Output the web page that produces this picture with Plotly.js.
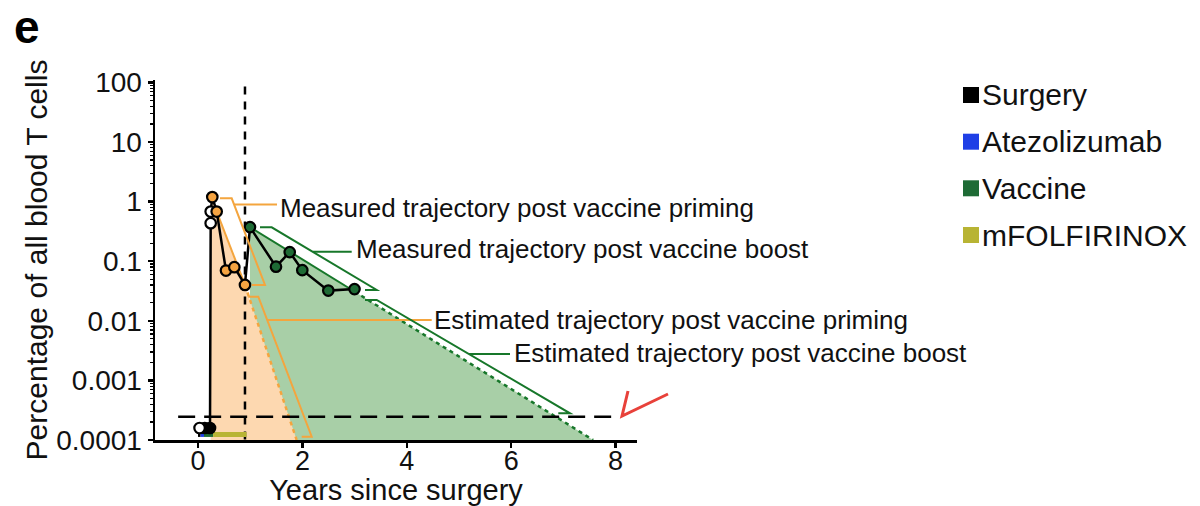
<!DOCTYPE html>
<html>
<head>
<meta charset="utf-8">
<script src="https://cdn.plot.ly/plotly-3.0.1.min.js"></script>
<style>html,body{margin:0;padding:0;background:#fff;}#chart{width:1200px;height:506px;}</style>
</head>
<body>
<div id="chart"></div>
<script>
// ---------- data ----------
// pre-vaccine measurements (below detection)
var preOpenX = [0.03];
var preOpenY = [0.000159];
var preFilledX = [0.13, 0.23];
var preFilledY = [0.000159, 0.000159];
// open-circle measurements at vaccine onset
var onsetX = [0.243, 0.243];
var onsetY = [0.435, 0.68];
// measured post priming (orange)
var primeX = [0.274, 0.358, 0.536, 0.696, 0.90];
var primeY = [1.19, 0.68, 0.0697, 0.0794, 0.040];
// measured post boost (green)
var boostX = [0.996, 1.494, 1.757, 1.998, 2.496, 2.998];
var boostY = [0.373, 0.081, 0.142, 0.0708, 0.0321, 0.034];
// fitted / estimated trajectories
var primeFitX = [0.358, 0.90];
var primeFitY = [0.68, 0.040];
var primeEstX = [0.90, 1.89];
var primeEstY = [0.040, 0.0001];
var boostFitX = [0.996, 2.998];
var boostFitY = [0.373, 0.031];
var boostEstX = [2.998, 7.57];
var boostEstY = [0.031, 0.0001];
var floorY = 0.0001;
// reference lines
var boostTimeX = [0.9, 0.9];
var boostTimeY = [85, 0.0001];
var lodX = [-0.38, 7.97];
var lodY = [0.000246, 0.000246];
// treatments
var treatNames = ['Surgery', 'Atezolizumab', 'Vaccine', 'mFOLFIRINOX'];
var treatColors = ['#000000', '#1f3fe6', '#1e6b35', '#b8b434'];
var treatStart = [0.0, 0.05, 0.115, 0.29];
var treatEnd = [0.05, 0.115, 0.29, 0.93];
var treatLevel = 0.000124;
// axis ticks
var yTickVals = [0.0001, 0.001, 0.01, 0.1, 1, 10, 100];
var yTickText = ['0.0001', '0.001', '0.01', '0.1', '1', '10', '100'];
var xTickVals = [0, 2, 4, 6, 8];
var xTickText = ['0', '2', '4', '6', '8'];
// callout labels
var calloutText = ['Measured trajectory post vaccine priming', 'Measured trajectory post vaccine boost',
                   'Estimated trajectory post vaccine priming', 'Estimated trajectory post vaccine boost'];

// ---------- colours ----------
var peach = '#fdd8b0', orange = '#f4a53e', greenFill = '#a8cfa7', greenLine = '#17772a', greenMark = '#1e6b35';
var FONT = 'Liberation Sans, Arial, Helvetica, sans-serif';

// ---------- build traces ----------
var traces = [];
// boost area polygon
var bAx = [boostFitX[0]].concat(boostFitX, boostEstX.slice(1), [boostFitX[0]]);
var bAy = [floorY].concat(boostFitY, boostEstY.slice(1), [floorY]);
traces.push({x: bAx, y: bAy, mode: 'lines', fill: 'toself', fillcolor: greenFill, line: {width: 0}, hoverinfo: 'skip', showlegend: false});
// priming area polygon
var pAx = [onsetX[0], onsetX[1]].concat(primeX.slice(0, 2), primeFitX.slice(1), primeEstX.slice(1), [onsetX[0]]);
var pAy = [floorY, onsetY[1]].concat(primeY.slice(0, 2), primeFitY.slice(1), primeEstY.slice(1), [floorY]);
traces.push({x: pAx, y: pAy, mode: 'lines', fill: 'toself', fillcolor: peach, line: {width: 0}, hoverinfo: 'skip', showlegend: false});
// trajectory lines
traces.push({x: boostFitX, y: boostFitY, mode: 'lines', line: {color: greenLine, width: 2}, showlegend: false});
traces.push({x: boostEstX, y: boostEstY, mode: 'lines', line: {color: greenLine, width: 2.5, dash: '4px,4px'}, showlegend: false});
traces.push({x: primeFitX, y: primeFitY, mode: 'lines', line: {color: orange, width: 2}, showlegend: false});
traces.push({x: primeEstX, y: primeEstY, mode: 'lines', line: {color: orange, width: 2.5, dash: '4px,4px'}, showlegend: false});
// reference dashed lines
traces.push({x: boostTimeX, y: boostTimeY, mode: 'lines', line: {color: '#000', width: 2.5, dash: '8px,7px'}, showlegend: false});
traces.push({x: lodX, y: lodY, mode: 'lines', line: {color: '#000', width: 2.5, dash: '17px,9px'}, showlegend: false});
// treatments
for (var i = 0; i < treatNames.length; i++) {
  traces.push({x: [treatStart[i], treatEnd[i]], y: [treatLevel, treatLevel], mode: 'lines', name: treatNames[i],
               line: {color: treatColors[i], width: 5}, showlegend: false});
}
// black connecting line
var allX = preOpenX.concat(preFilledX, onsetX, primeX, boostX);
var allY = preOpenY.concat(preFilledY, onsetY, primeY, boostY);
traces.push({x: allX, y: allY, mode: 'lines', line: {color: '#000', width: 2.5}, showlegend: false});
// markers
var mk = function (fill) { return {size: 10.5, color: fill, line: {color: '#000', width: 2.2}}; };
traces.push({x: preFilledX, y: preFilledY, mode: 'markers', marker: mk('#000'), showlegend: false});
traces.push({x: preOpenX, y: preOpenY, mode: 'markers', marker: mk('#fff'), showlegend: false});
traces.push({x: onsetX, y: onsetY, mode: 'markers', marker: mk('#fff'), showlegend: false});
traces.push({x: primeX, y: primeY, mode: 'markers', marker: mk('#f5a442'), showlegend: false});
traces.push({x: boostX, y: boostY, mode: 'markers', marker: mk(greenMark), showlegend: false});

// ---------- layout helpers (pixel -> paper) ----------
var L = 155, R = 637, T = 80, B = 440;
function px(x) { return (x - L) / (R - L); }
function py(y) { return (B - y) / (B - T); }
function poly(pts, color, w) {
  var d = '';
  pts.forEach(function (p, k) { d += (k ? ' L ' : 'M ') + px(p[0]) + ',' + py(p[1]); });
  return {type: 'path', xref: 'paper', yref: 'paper', path: d, line: {color: color, width: w}, layer: 'above'};
}
var shapes = [
  poly([[220, 198.3], [231.7, 198.3], [265, 285], [251.7, 285]], orange, 2),
  poly([[234.3, 204.5], [277, 204.5]], orange, 2),
  poly([[260, 227.3], [271.7, 227.3], [376.7, 290], [365, 290]], greenLine, 2),
  poly([[313, 251.7], [351.7, 251.7]], greenLine, 2),
  poly([[248.3, 296.7], [258.3, 296.7], [311.7, 436.7], [301.7, 436.7]], orange, 2),
  poly([[267.2, 320], [431.7, 320]], orange, 2),
  poly([[365, 300], [376.7, 300], [570, 413.3], [558.3, 413.3]], greenLine, 2),
  poly([[469, 354], [510, 354]], greenLine, 2),
  poly([[628, 391], [622, 416], [668, 394]], '#e8413a', 3)
];
var annotations = [];
var calloutPos = [[278, 208], [354, 249], [432, 320], [512, 353]];
calloutText.forEach(function (t, k) {
  annotations.push({xref: 'paper', yref: 'paper', x: px(calloutPos[k][0]), y: py(calloutPos[k][1]), text: t, showarrow: false,
    xanchor: 'left', yanchor: 'middle', font: {family: FONT, size: 26, color: '#111'}});
});
// legend (manual)
var legY = [95, 141.7, 188.3, 235];
treatNames.forEach(function (n, k) {
  shapes.push({type: 'rect', xref: 'paper', yref: 'paper', x0: px(963), x1: px(979), y0: py(legY[k] - 8), y1: py(legY[k] + 8),
               fillcolor: treatColors[k], line: {width: 0}});
  annotations.push({xref: 'paper', yref: 'paper', x: px(980), y: py(legY[k]), text: n, showarrow: false,
    xanchor: 'left', yanchor: 'middle', font: {family: FONT, size: 30, color: '#111'}});
});
// panel letter
annotations.push({xref: 'paper', yref: 'paper', x: px(27), y: py(0), text: '<b>e</b>', showarrow: false,
  xanchor: 'center', yanchor: 'top', borderpad: 0, font: {family: FONT, size: 46, color: '#000'}});

var layout = {
  width: 1200, height: 506,
  margin: {l: L, r: 1200 - R, t: T, b: 506 - B, pad: 0},
  paper_bgcolor: '#fff', plot_bgcolor: '#fff',
  showlegend: false,
  font: {family: FONT, color: '#000'},
  xaxis: {
    range: [(L - 198) / 52.2, (R - 198) / 52.2], tickmode: 'array', tickvals: xTickVals, ticktext: xTickText,
    showgrid: false, zeroline: false, showline: true, linecolor: '#000', linewidth: 2.5,
    ticks: 'outside', ticklen: 5, tickwidth: 2.5, tickcolor: '#000', ticklabelstandoff: -10,
    tickfont: {size: 27, family: FONT, color: '#111'},
    title: {text: 'Years since surgery', font: {size: 29, family: FONT, color: '#111'}, standoff: 5}
  },
  yaxis: {
    type: 'log', range: [-4, 2.04], tickmode: 'array', tickvals: yTickVals, ticktext: yTickText,
    showgrid: false, zeroline: false, showline: true, linecolor: '#000', linewidth: 2.5,
    ticks: 'outside', ticklen: 5, tickwidth: 2.5, tickcolor: '#000',
    minor: {ticks: 'outside', ticklen: 3, tickwidth: 1.2, tickcolor: '#000', dtick: 'D1', showgrid: false},
    tickfont: {size: 28, family: FONT, color: '#111'},
    title: {text: 'Percentage of all blood T cells', font: {size: 30, family: FONT, color: '#111'}, standoff: 0}
  },
  shapes: shapes,
  annotations: annotations
};
Plotly.newPlot('chart', traces, layout, {displayModeBar: false, staticPlot: true});
</script>
</body>
</html>
